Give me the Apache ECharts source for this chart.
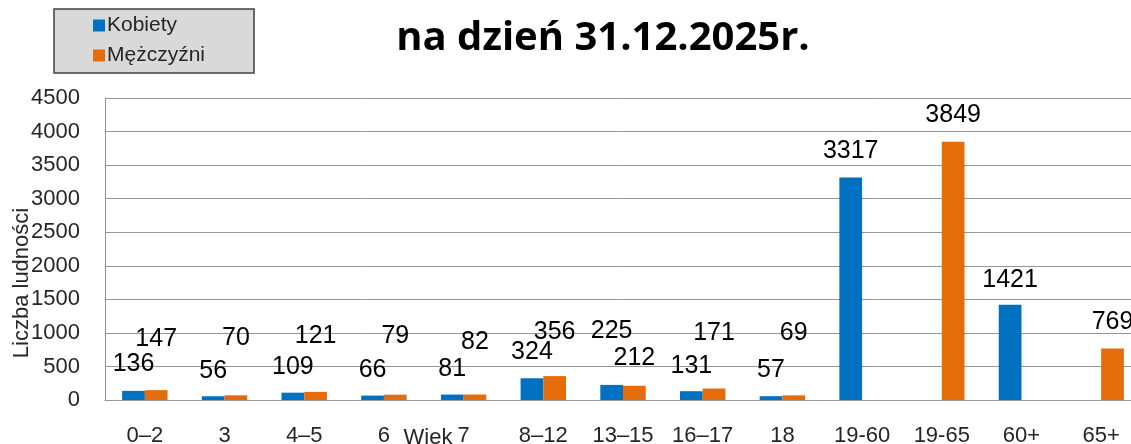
<!DOCTYPE html>
<html>
<head>
<meta charset="utf-8">
<script src="https://cdn.jsdelivr.net/npm/echarts@6/dist/echarts.min.js"></script>
<style>
  html, body { margin: 0; padding: 0; background: #fff; }
  #chart { width: 1131px; height: 444px; }
</style>
</head>
<body>
<div id="chart"></div>
<script>
const categories = ["0–2", "3", "4–5", "6", "7", "8–12", "13–15", "16–17", "18", "19-60", "19-65", "60+", "65+"];
const kobiety = [136, 56, 109, 66, 81, 324, 225, 131, 57, 3317, null, 1421, null];
const mezczyzni = [147, 70, 121, 79, 82, 356, 212, 171, 69, null, 3849, null, 769];
const yTicks = { min: 0, max: 4500, interval: 500 };

// label offsets above the bars (Excel moved some labels to avoid overlap)
const kobietyLabelGap = [14, 13, 13, 13, 13, 14, 41, 13, 14, 14, 0, 12, 0];
const mezczyzniLabelGap = [39, 45, 43, 46, 40, 31, 15, 43, 50, 0, 14, 0, 14];

const font = "Liberation Sans";

function withLabels(values, gaps) {
    return values.map((v, i) => {
        if (v === null) return "-";
        return { value: v, label: { distance: gaps[i] } };
    });
}

const myChart = echarts.init(document.getElementById("chart"));

const option = {
    animation: false,
    textStyle: { fontFamily: font },
    title: {
        text: "na dzień 31.12.2025r.",
        left: 598,
        top: 14,
        textAlign: "center",
        textStyle: {
            fontFamily: "Open Sans",
            fontWeight: "bold",
            fontSize: 40,
            color: "#000",
        },
    },
    legend: {
        orient: "vertical",
        left: 54,
        top: 9,
        padding: [6, 49, 7, 39],
        itemGap: 9,
        itemWidth: 12,
        itemHeight: 12,
        backgroundColor: "#d9d9d9",
        borderColor: "#404040",
        borderWidth: 1.5,
        borderRadius: 0,
        icon: "rect",
        textStyle: { fontFamily: font, fontSize: 21, color: "#262626", padding: [0, 0, 0, -3] },
    },
    grid: {
        left: 105,
        right: -10,
        top: 98,
        bottom: 44,
        containLabel: false,
        outerBoundsMode: "none",
    },
    xAxis: {
        type: "category",
        data: categories,
        name: "Wiek",
        nameLocation: "middle",
        nameGap: 27,
        nameMoveOverlap: false,
        nameTextStyle: { fontFamily: font, fontSize: 22, color: "#262626", padding: [0, 390, 0, 0] },
        axisLine: { lineStyle: { color: "#969696", width: 1 } },
        axisTick: { show: false },
        axisLabel: { fontFamily: font, fontSize: 22, color: "#262626", margin: 25, interval: 0 },
    },
    yAxis: {
        type: "value",
        min: yTicks.min,
        max: yTicks.max,
        interval: yTicks.interval,
        name: "Liczba ludności",
        nameLocation: "middle",
        nameGap: 72,
        nameMoveOverlap: false,
        nameTextStyle: { fontFamily: font, fontSize: 22, color: "#262626", padding: [0, 68, 0, 0] },
        axisLine: { show: true, lineStyle: { color: "#969696", width: 1 } },
        axisTick: { show: false },
        axisLabel: {
            fontFamily: font,
            fontSize: 22,
            color: "#262626",
            margin: 25,
            formatter: (v) => String(v),
        },
        splitLine: { lineStyle: { color: "#969696", width: 1 } },
    },
    series: [
        {
            name: "Kobiety",
            type: "bar",
            barGap: "0%",
            barCategoryGap: "43%",
            itemStyle: { color: "#0070c0" },
            label: { show: true, position: "top", fontFamily: font, fontSize: 25, color: "#000" },
            data: withLabels(kobiety, kobietyLabelGap),
        },
        {
            name: "Mężczyźni",
            type: "bar",
            barGap: "0%",
            barCategoryGap: "43%",
            itemStyle: { color: "#e46c0a" },
            label: { show: true, position: "top", fontFamily: font, fontSize: 25, color: "#000" },
            data: withLabels(mezczyzni, mezczyzniLabelGap),
        },
    ],
};
option && myChart.setOption(option);
</script>
</body>
</html>
